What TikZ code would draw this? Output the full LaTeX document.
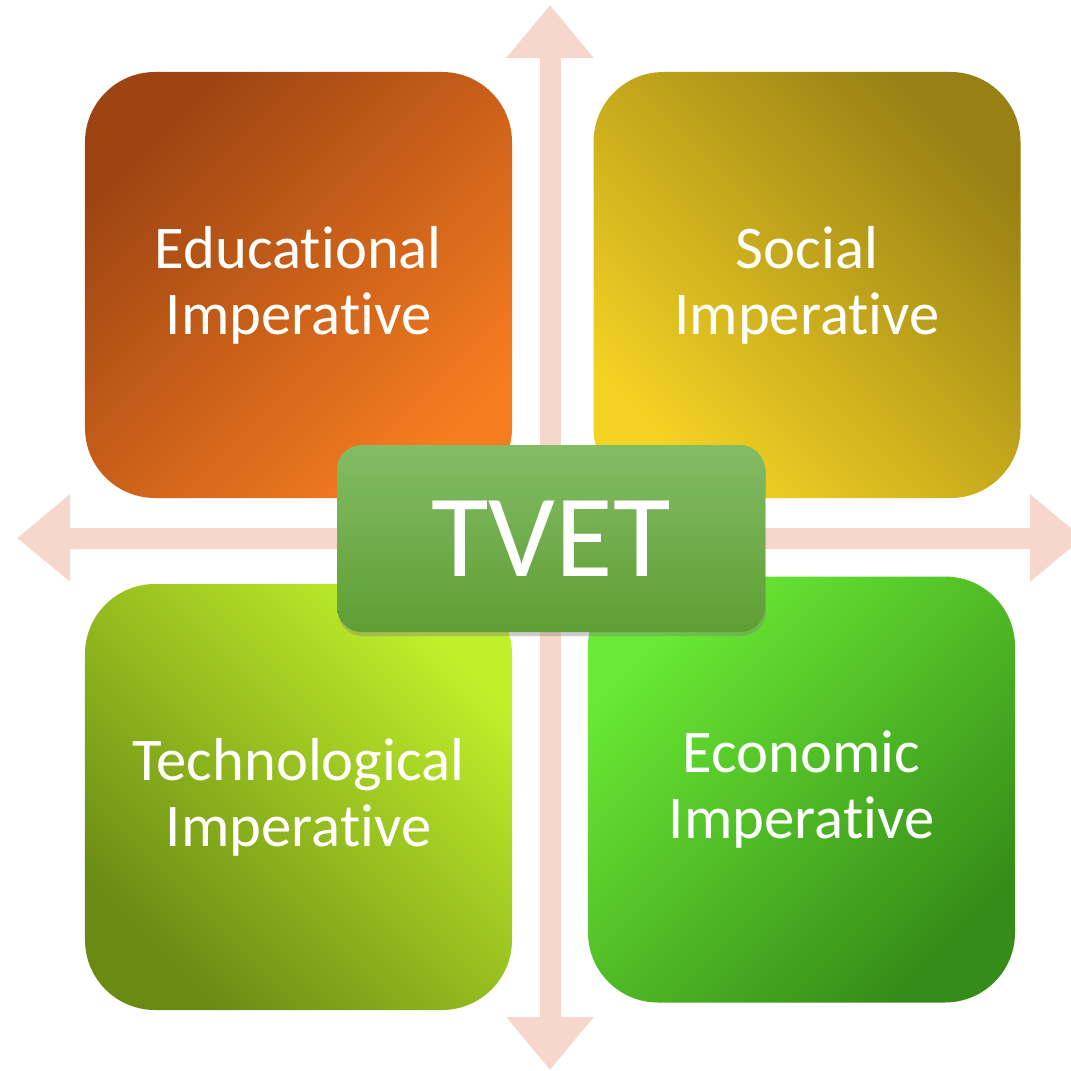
\documentclass[tikz,border=0pt]{standalone}
\usepackage{fontspec}
\setmainfont{Carlito}[Ligatures={NoCommon}]
\usetikzlibrary{arrows.meta,shadows}

\definecolor{crosspink}{RGB}{247,215,204}
\definecolor{edudark}{RGB}{156,68,18}
\definecolor{edulight}{RGB}{246,124,32}
\definecolor{socdark}{RGB}{152,128,20}
\definecolor{soclight}{RGB}{244,210,36}
\definecolor{techdark}{RGB}{106,138,20}
\definecolor{techlight}{RGB}{192,240,42}
\definecolor{ecodark}{RGB}{54,140,24}
\definecolor{ecolight}{RGB}{106,234,52}
\definecolor{tvettop}{RGB}{132,188,102}
\definecolor{tvetbottom}{RGB}{94,158,50}

\begin{document}
\begin{tikzpicture}[x=0.2mm, y=-0.2mm,
		quad/.style={rectangle, rounded corners=14mm, minimum width=85.4mm, minimum height=85.2mm, inner sep=0pt, align=center, text=white, font=\fontsize{34.5}{37.6}\selectfont},
		hub/.style={rectangle, rounded corners=5mm, minimum width=85.6mm, minimum height=37.4mm, inner sep=0pt, text=white, font=\fontsize{67}{70}\selectfont, top color=tvettop, bottom color=tvetbottom, drop shadow={shadow xshift=0.2mm, shadow yshift=-0.8mm, opacity=0.4}},
		crossarrow/.style={draw=crosspink, line width=4.2mm, {Triangle[length=10.6mm, width=16.8mm]}-{Triangle[length=10.6mm, width=16.8mm]}}]
		\useasboundingbox (0, 0) rectangle (1071, 1071);
		\clip (0, 0) rectangle (1071, 1071);

		\path (550, 5) coordinate (arrowtop)
			(550, 1070) coordinate (arrowbottom)
			(17, 538) coordinate (arrowleft)
			(1083, 538) coordinate (arrowright);

		\draw[crossarrow] (arrowtop) -- (arrowbottom);
		\draw[crossarrow] (arrowleft) -- (arrowright);

		\path (298.5, 285) node[quad, top color=edudark, bottom color=edulight, shading angle=45] (edu) {Educational\\Imperative}
			(807, 285) node[quad, top color=socdark, bottom color=soclight, shading angle=-45] (soc) {Social\\Imperative}
			(298.5, 797) node[quad, top color=techlight, bottom color=techdark, shading angle=-45] (tech) {Technological\\Imperative}
			(801.5, 789.5) node[quad, top color=ecolight, bottom color=ecodark, shading angle=45] (eco) {Economic\\Imperative};

		\path (551, 538.5) node[hub] (tvet) {TVET};
	\end{tikzpicture}
\end{document}
